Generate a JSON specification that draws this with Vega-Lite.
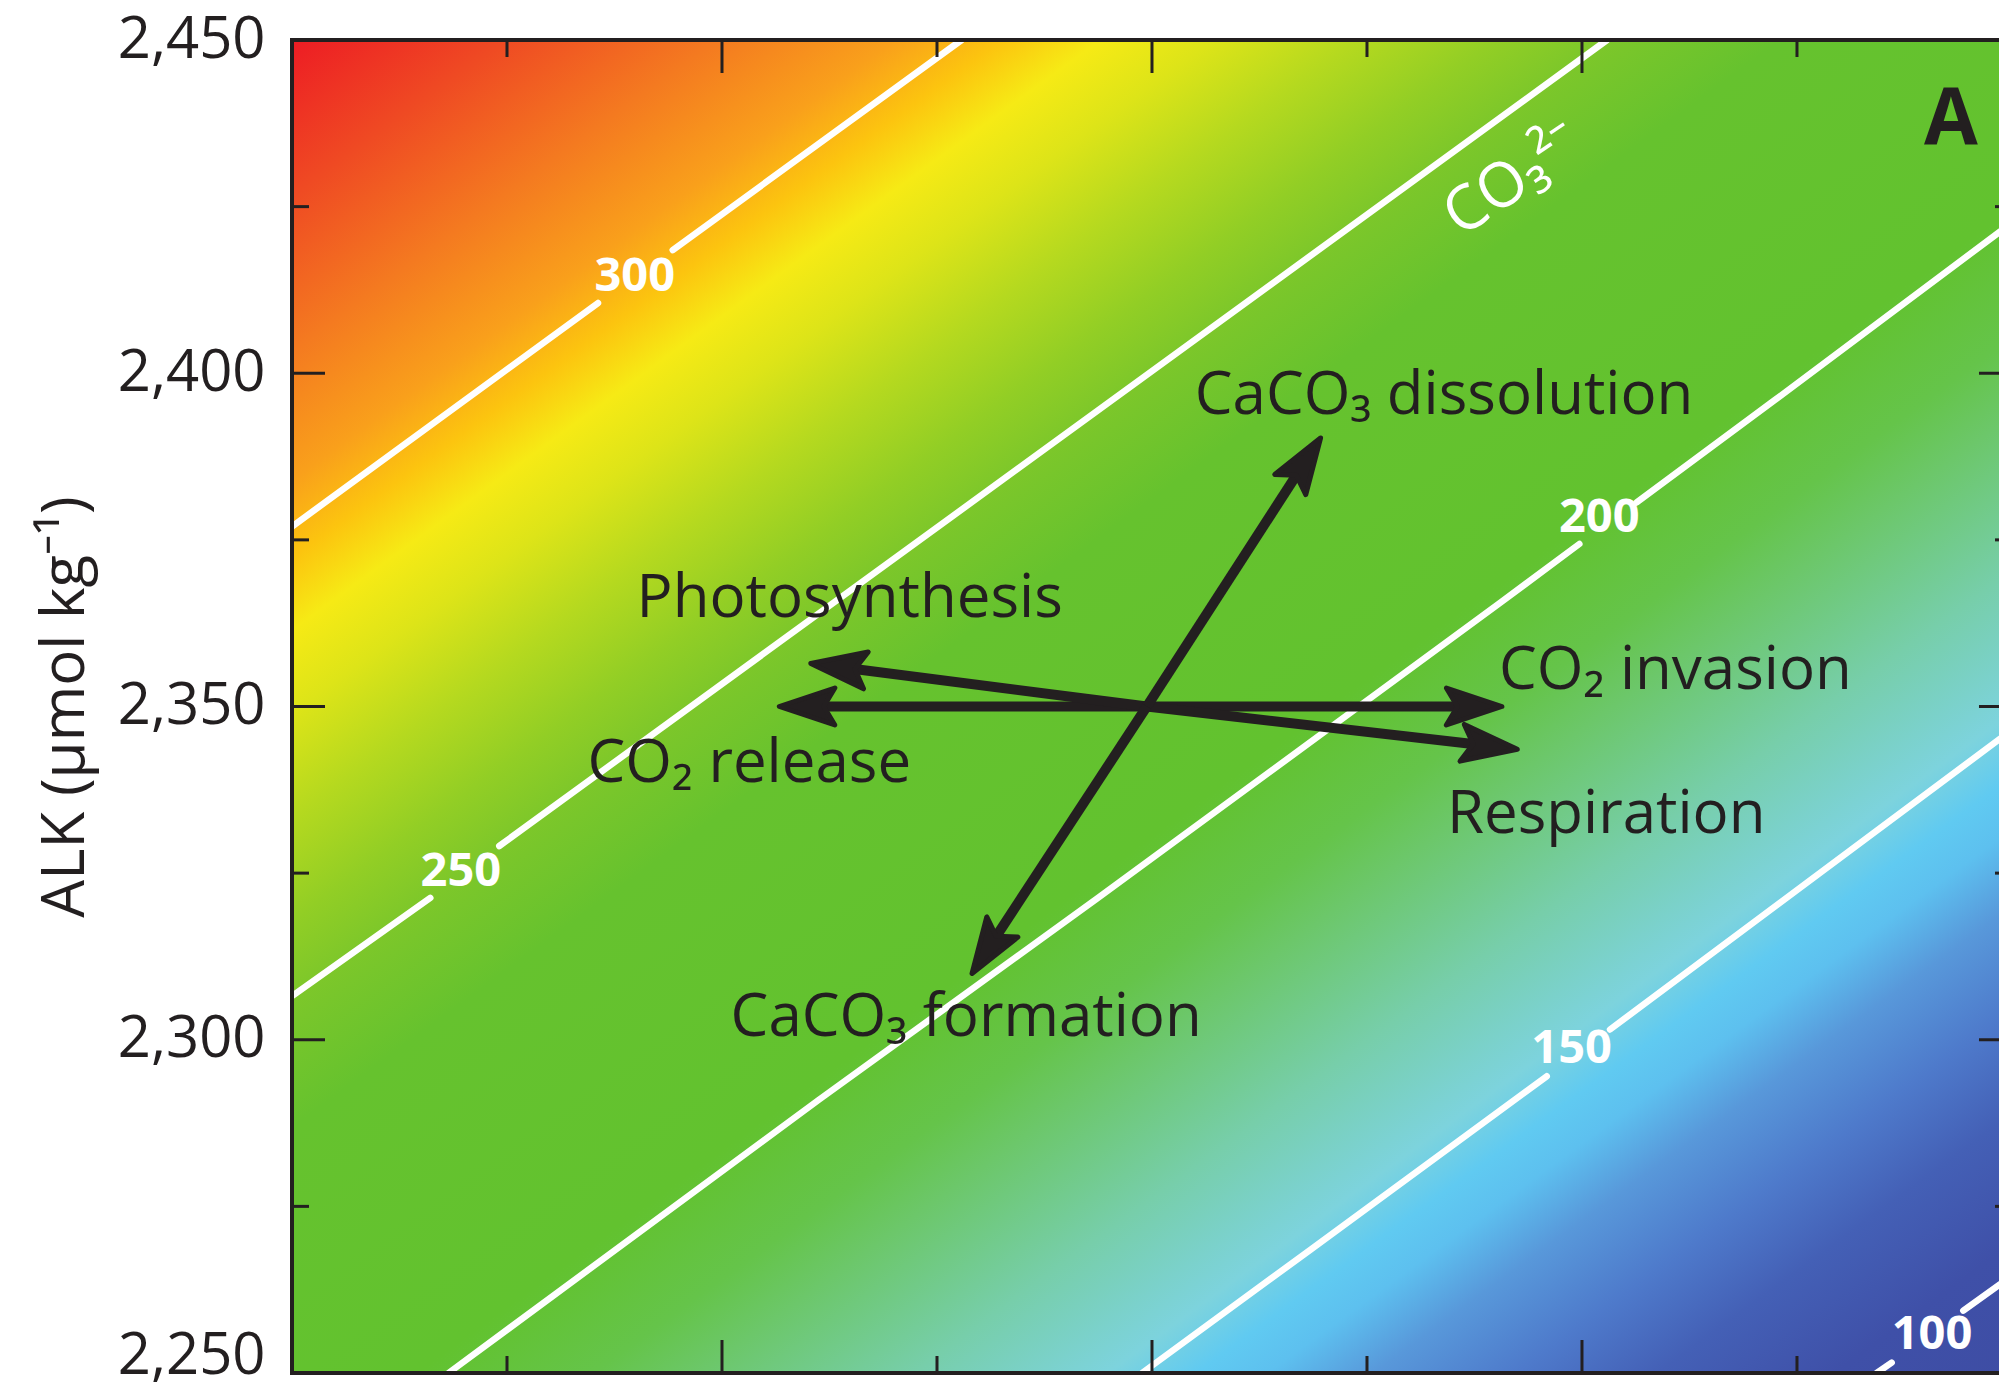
{
  "$schema": "https://vega.github.io/schema/vega-lite/v6.json",
  "width": 1707,
  "height": 1333,
  "autosize": {"type": "none"},
  "padding": {"left": 292, "top": 40, "right": 0, "bottom": 17},
  "background": "white",
  "config": {
    "view": {"stroke": null},
    "font": "Open Sans",
    "axisY": {
      "labelFont": "Open Sans",
      "labelFontSize": 58,
      "labelColor": "#231F20",
      "labelPadding": 27,
      "labelFlush": false,
      "labelOverlap": false,
      "ticks": false,
      "grid": false,
      "domain": false,
      "titleFont": "Open Sans",
      "titleFontSize": 60,
      "titleFontWeight": "normal",
      "titleColor": "#231F20",
      "titlePadding": 21
    }
  },
  "datasets": {
    "bgfield": [{"dic": 1900, "dic2": 2100, "alk": 2250, "alk2": 2450}],
    "contours": [
      {"seg": "300a", "level": 300, "dic": 1900, "alk": 2377.0},
      {"seg": "300a", "level": 300, "dic": 1935.58, "alk": 2410.54},
      {"seg": "300b", "level": 300, "dic": 1944.27, "alk": 2418.49},
      {"seg": "300b", "level": 300, "dic": 1977.86, "alk": 2450},
      {"seg": "250a", "level": 250, "dic": 1900, "alk": 2306.56},
      {"seg": "250a", "level": 250, "dic": 1916.08, "alk": 2321.28},
      {"seg": "250b", "level": 250, "dic": 1924.10, "alk": 2329.07},
      {"seg": "250b", "level": 250, "dic": 2052.91, "alk": 2450},
      {"seg": "200a", "level": 200, "dic": 1918.2, "alk": 2250},
      {"seg": "200a", "level": 200, "dic": 1961.23, "alk": 2290.96},
      {"seg": "200a", "level": 200, "dic": 1993.72, "alk": 2321.27},
      {"seg": "200a", "level": 200, "dic": 2040.47, "alk": 2365.53},
      {"seg": "200a", "level": 200, "dic": 2049.69, "alk": 2374.38},
      {"seg": "200b", "level": 200, "dic": 2056.36, "alk": 2380.61},
      {"seg": "200b", "level": 200, "dic": 2072.44, "alk": 2395.99},
      {"seg": "200b", "level": 200, "dic": 2100, "alk": 2422.6},
      {"seg": "150a", "level": 150, "dic": 1998.84, "alk": 2250},
      {"seg": "150a", "level": 150, "dic": 2018.37, "alk": 2268.45},
      {"seg": "150a", "level": 150, "dic": 2045.90, "alk": 2294.52},
      {"seg": "150b", "level": 150, "dic": 2053.26, "alk": 2301.54},
      {"seg": "150b", "level": 150, "dic": 2100, "alk": 2346.5},
      {"seg": "100a", "level": 100, "dic": 2084.27, "alk": 2250},
      {"seg": "100a", "level": 100, "dic": 2086.01, "alk": 2251.55},
      {"seg": "100b", "level": 100, "dic": 2094.34, "alk": 2259.35},
      {"seg": "100b", "level": 100, "dic": 2100, "alk": 2264.6}
    ],
    "clabels": [
      {"label": "300", "dic": 1939.86, "alk": 2414.37},
      {"label": "250", "dic": 1919.63, "alk": 2325.17},
      {"label": "200", "dic": 2052.01, "alk": 2378.24},
      {"label": "150", "dic": 2048.80, "alk": 2298.61},
      {"label": "100", "dic": 2090.70, "alk": 2255.70}
    ],
    "arrows": [
      {"name": "CO2 invasion", "dic": 1999.4, "alk": 2350.0, "dic2": 2036.49, "alk2": 2350.0},
      {"name": "CO2 release", "dic": 1999.4, "alk": 2350.0, "dic2": 1960.86, "alk2": 2350.0},
      {"name": "Photosynthesis", "dic": 1999.4, "alk": 2350.0, "dic2": 1964.49, "alk2": 2355.78},
      {"name": "Respiration", "dic": 1999.4, "alk": 2350.0, "dic2": 2038.31, "alk2": 2344.22},
      {"name": "CaCO3 dissolution", "dic": 1999.4, "alk": 2350.0, "dic2": 2017.31, "alk2": 2385.75},
      {"name": "CaCO3 formation", "dic": 1999.4, "alk": 2350.0, "dic2": 1981.36, "alk2": 2314.47}
    ],
    "notes": [
      {"label": "Photosynthesis", "dic": 1940.07, "alk": 2363.47},
      {"label": "CO₂ release", "dic": 1934.36, "alk": 2338.72},
      {"label": "CO₂ invasion", "dic": 2040.35, "alk": 2352.63},
      {"label": "Respiration", "dic": 2034.30, "alk": 2331.02},
      {"label": "CaCO₃ dissolution", "dic": 2004.98, "alk": 2393.89},
      {"label": "CaCO₃ formation", "dic": 1951.0, "alk": 2300.56}
    ],
    "ion": [{"label": "CO₃²⁻", "dic": 2042.0, "alk": 2429.0}],
    "panel": [{"label": "A", "dic": 2092.9, "alk": 2434.4}],
    "xmaj": [
      {"dic": 1950, "alk": 2250, "edge": "bottom"}, {"dic": 2000, "alk": 2250, "edge": "bottom"}, {"dic": 2050, "alk": 2250, "edge": "bottom"},
      {"dic": 1950, "alk": 2450, "edge": "top"}, {"dic": 2000, "alk": 2450, "edge": "top"}, {"dic": 2050, "alk": 2450, "edge": "top"}
    ],
    "xmin": [
      {"dic": 1925, "alk": 2250, "edge": "bottom"}, {"dic": 1975, "alk": 2250, "edge": "bottom"}, {"dic": 2025, "alk": 2250, "edge": "bottom"}, {"dic": 2075, "alk": 2250, "edge": "bottom"},
      {"dic": 1925, "alk": 2450, "edge": "top"}, {"dic": 1975, "alk": 2450, "edge": "top"}, {"dic": 2025, "alk": 2450, "edge": "top"}, {"dic": 2075, "alk": 2450, "edge": "top"}
    ],
    "ymaj": [
      {"dic": 1900, "alk": 2300, "edge": "left"}, {"dic": 1900, "alk": 2350, "edge": "left"}, {"dic": 1900, "alk": 2400, "edge": "left"},
      {"dic": 2100, "alk": 2300, "edge": "right"}, {"dic": 2100, "alk": 2350, "edge": "right"}, {"dic": 2100, "alk": 2400, "edge": "right"}
    ],
    "ymin": [
      {"dic": 1900, "alk": 2275, "edge": "left"}, {"dic": 1900, "alk": 2325, "edge": "left"}, {"dic": 1900, "alk": 2375, "edge": "left"}, {"dic": 1900, "alk": 2425, "edge": "left"},
      {"dic": 2100, "alk": 2275, "edge": "right"}, {"dic": 2100, "alk": 2325, "edge": "right"}, {"dic": 2100, "alk": 2375, "edge": "right"}, {"dic": 2100, "alk": 2425, "edge": "right"}
    ],
    "frame": [
      {"edge": "top", "dic": 1900, "dic2": 2100, "alk": 2450, "alk2": 2450},
      {"edge": "bottom", "dic": 1900, "dic2": 2100, "alk": 2250, "alk2": 2250},
      {"edge": "left", "dic": 1900, "dic2": 1900, "alk": 2250, "alk2": 2450}
    ]
  },
  "layer": [
    {
      "data": {"name": "bgfield"},
      "mark": {
        "type": "rect",
        "fill": {
          "gradient": "linear",
          "x1": 0, "y1": 0, "x2": 0.9692, "y2": 1.0289,
          "stops": [
            {"offset": 0.0, "color": "#ED1C24"},
            {"offset": 0.06, "color": "#EF4A23"},
            {"offset": 0.12, "color": "#F47A20"},
            {"offset": 0.17, "color": "#F9A01B"},
            {"offset": 0.20, "color": "#FCC40F"},
            {"offset": 0.228, "color": "#F6EA15"},
            {"offset": 0.26, "color": "#DDE418"},
            {"offset": 0.30, "color": "#B5D91F"},
            {"offset": 0.34, "color": "#92CE25"},
            {"offset": 0.37, "color": "#7DC72A"},
            {"offset": 0.42, "color": "#66C22E"},
            {"offset": 0.55, "color": "#62C22F"},
            {"offset": 0.60, "color": "#65C44A"},
            {"offset": 0.63, "color": "#6CC76A"},
            {"offset": 0.69, "color": "#77CEAA"},
            {"offset": 0.745, "color": "#7DD3DD"},
            {"offset": 0.77, "color": "#60CAF1"},
            {"offset": 0.79, "color": "#5DC0EF"},
            {"offset": 0.82, "color": "#5898DA"},
            {"offset": 0.86, "color": "#4E7ACB"},
            {"offset": 0.90, "color": "#4460B6"},
            {"offset": 0.95, "color": "#3F50A8"},
            {"offset": 1.0, "color": "#3E4DA4"}
          ]
        }
      },
      "encoding": {
        "x": {
          "field": "dic", "type": "quantitative",
          "scale": {"domain": [1900, 2098.49], "nice": false, "zero": false},
          "axis": null
        },
        "x2": {"field": "dic2"},
        "y": {
          "field": "alk", "type": "quantitative",
          "scale": {"domain": [2250, 2450], "nice": false, "zero": false},
          "axis": {
            "values": [2250, 2300, 2350, 2400, 2450],
            "format": ",d",
            "orient": "left",
            "title": "ALK (μmol kg⁻¹)",
            "labelBaseline": {"condition": {"test": "datum.value <= 2260", "value": "alphabetic"}, "value": "middle"}
          }
        },
        "y2": {"field": "alk2"}
      }
    },
    {
      "data": {"name": "contours"},
      "mark": {"type": "line", "color": "white", "strokeWidth": 6.5, "strokeCap": "round"},
      "encoding": {
        "x": {"field": "dic", "type": "quantitative", "axis": null},
        "y": {"field": "alk", "type": "quantitative"},
        "detail": {"field": "seg", "type": "nominal"},
        "order": {"field": "dic", "type": "quantitative"}
      }
    },
    {
      "data": {"name": "clabels"},
      "mark": {"type": "text", "color": "white", "font": "Open Sans", "fontSize": 47, "fontWeight": "bold", "align": "center", "baseline": "middle"},
      "encoding": {
        "x": {"field": "dic", "type": "quantitative", "axis": null},
        "y": {"field": "alk", "type": "quantitative"},
        "text": {"field": "label", "type": "nominal"}
      }
    },
    {
      "data": {"name": "arrows"},
      "mark": {"type": "rule", "color": "#231F20", "strokeWidth": 10, "strokeCap": "butt"},
      "encoding": {
        "x": {"field": "dic", "type": "quantitative", "axis": null},
        "y": {"field": "alk", "type": "quantitative"},
        "x2": {"field": "dic2"},
        "y2": {"field": "alk2"}
      }
    },
    {
      "data": {"name": "arrows"},
      "mark": {"type": "point", "shape": "M1.95,0 L-1.05,-1 L-0.45,0 L-1.05,1 Z", "size": 1369, "filled": true, "fill": "#231F20", "stroke": "#231F20", "strokeWidth": 5, "strokeJoin": "round", "opacity": 1},
      "encoding": {
        "x": {"field": "dic2", "type": "quantitative", "axis": null},
        "y": {"field": "alk2", "type": "quantitative"},
        "angle": {
          "field": "name", "type": "nominal", "legend": null,
          "scale": {
            "type": "ordinal",
            "domain": ["CO2 invasion", "CO2 release", "Photosynthesis", "Respiration", "CaCO3 dissolution", "CaCO3 formation"],
            "range": [0, 180, 187.23, 6.63, 303.07, 123.06]
          }
        }
      }
    },
    {
      "data": {"name": "notes"},
      "mark": {"type": "text", "color": "#231F20", "font": "Open Sans", "fontSize": 60, "align": "left", "baseline": "alphabetic"},
      "encoding": {
        "x": {"field": "dic", "type": "quantitative", "axis": null},
        "y": {"field": "alk", "type": "quantitative"},
        "text": {"field": "label", "type": "nominal"}
      }
    },
    {
      "data": {"name": "ion"},
      "mark": {"type": "text", "color": "white", "font": "Open Sans", "fontSize": 62, "align": "center", "baseline": "middle", "angle": 326},
      "encoding": {
        "x": {"field": "dic", "type": "quantitative", "axis": null},
        "y": {"field": "alk", "type": "quantitative"},
        "text": {"field": "label", "type": "nominal"}
      }
    },
    {
      "data": {"name": "panel"},
      "mark": {"type": "text", "color": "#231F20", "font": "Open Sans", "fontSize": 78, "fontWeight": "bold", "align": "center", "baseline": "alphabetic"},
      "encoding": {
        "x": {"field": "dic", "type": "quantitative", "axis": null},
        "y": {"field": "alk", "type": "quantitative"},
        "text": {"field": "label", "type": "nominal"}
      }
    },
    {
      "data": {"name": "xmaj"},
      "transform": [{"filter": "datum.edge == 'bottom'"}],
      "mark": {"type": "tick", "orient": "vertical", "size": 33, "thickness": 3, "yOffset": -16.5, "color": "#231F20", "opacity": 1},
      "encoding": {
        "x": {"field": "dic", "type": "quantitative", "axis": null},
        "y": {"field": "alk", "type": "quantitative"}
      }
    },
    {
      "data": {"name": "xmaj"},
      "transform": [{"filter": "datum.edge == 'top'"}],
      "mark": {"type": "tick", "orient": "vertical", "size": 33, "thickness": 3, "yOffset": 16.5, "color": "#231F20", "opacity": 1},
      "encoding": {
        "x": {"field": "dic", "type": "quantitative", "axis": null},
        "y": {"field": "alk", "type": "quantitative"}
      }
    },
    {
      "data": {"name": "xmin"},
      "transform": [{"filter": "datum.edge == 'bottom'"}],
      "mark": {"type": "tick", "orient": "vertical", "size": 17, "thickness": 3, "yOffset": -8.5, "color": "#231F20", "opacity": 1},
      "encoding": {
        "x": {"field": "dic", "type": "quantitative", "axis": null},
        "y": {"field": "alk", "type": "quantitative"}
      }
    },
    {
      "data": {"name": "xmin"},
      "transform": [{"filter": "datum.edge == 'top'"}],
      "mark": {"type": "tick", "orient": "vertical", "size": 17, "thickness": 3, "yOffset": 8.5, "color": "#231F20", "opacity": 1},
      "encoding": {
        "x": {"field": "dic", "type": "quantitative", "axis": null},
        "y": {"field": "alk", "type": "quantitative"}
      }
    },
    {
      "data": {"name": "ymaj"},
      "transform": [{"filter": "datum.edge == 'left'"}],
      "mark": {"type": "tick", "orient": "horizontal", "size": 33, "thickness": 3, "xOffset": 16.5, "color": "#231F20", "opacity": 1},
      "encoding": {
        "x": {"field": "dic", "type": "quantitative", "axis": null},
        "y": {"field": "alk", "type": "quantitative"}
      }
    },
    {
      "data": {"name": "ymaj"},
      "transform": [{"filter": "datum.edge == 'right'"}],
      "mark": {"type": "tick", "orient": "horizontal", "size": 33, "thickness": 3, "xOffset": -16.5, "color": "#231F20", "opacity": 1},
      "encoding": {
        "x": {"field": "dic", "type": "quantitative", "axis": null},
        "y": {"field": "alk", "type": "quantitative"}
      }
    },
    {
      "data": {"name": "ymin"},
      "transform": [{"filter": "datum.edge == 'left'"}],
      "mark": {"type": "tick", "orient": "horizontal", "size": 17, "thickness": 3, "xOffset": 8.5, "color": "#231F20", "opacity": 1},
      "encoding": {
        "x": {"field": "dic", "type": "quantitative", "axis": null},
        "y": {"field": "alk", "type": "quantitative"}
      }
    },
    {
      "data": {"name": "ymin"},
      "transform": [{"filter": "datum.edge == 'right'"}],
      "mark": {"type": "tick", "orient": "horizontal", "size": 17, "thickness": 3, "xOffset": -8.5, "color": "#231F20", "opacity": 1},
      "encoding": {
        "x": {"field": "dic", "type": "quantitative", "axis": null},
        "y": {"field": "alk", "type": "quantitative"}
      }
    },
    {
      "data": {"name": "frame"},
      "mark": {"type": "rule", "color": "#231F20", "strokeWidth": 4, "strokeCap": "square"},
      "encoding": {
        "x": {"field": "dic", "type": "quantitative", "axis": null},
        "x2": {"field": "dic2"},
        "y": {"field": "alk", "type": "quantitative"},
        "y2": {"field": "alk2"}
      }
    }
  ]
}
